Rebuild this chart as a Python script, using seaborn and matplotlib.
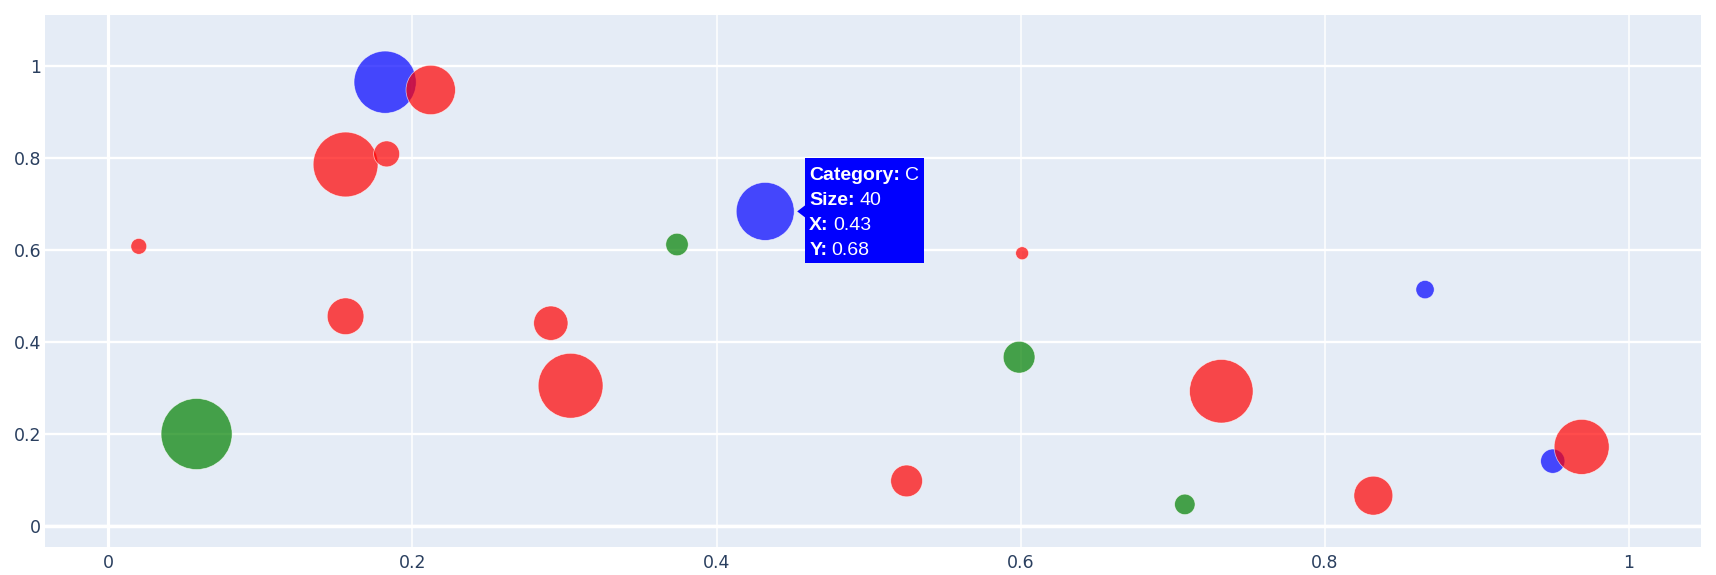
import matplotlib
matplotlib.use("Agg")
import matplotlib.pyplot as plt
import seaborn as sns
import pandas as pd
from matplotlib.patches import Rectangle, Polygon
from matplotlib.transforms import IdentityTransform
from matplotlib.ticker import FuncFormatter

# ---- data ----
cat_c_x = [0.182, 0.432, 0.866, 0.950]
cat_c_y = [0.964, 0.683, 0.513, 0.140]
cat_c_size = [46, 40, 4, 7]

cat_b_x = [0.058, 0.374, 0.599, 0.708]
cat_b_y = [0.199, 0.611, 0.366, 0.046]
cat_b_size = [60, 6, 12, 5]

cat_a_x = [0.020, 0.156, 0.183, 0.212, 0.156, 0.291, 0.304, 0.601, 0.525, 0.732, 0.832, 0.969]
cat_a_y = [0.607, 0.785, 0.808, 0.947, 0.455, 0.440, 0.304, 0.592, 0.097, 0.292, 0.065, 0.171]
cat_a_size = [3, 50, 8, 29, 16, 14, 50, 2, 12, 48, 18, 36]

categories = ["C", "B", "A"]
palette = {"A": "#ff0000", "B": "#008000", "C": "#0000ff"}
x_ticks = [0, 0.2, 0.4, 0.6, 0.8, 1]
y_ticks = [0, 0.2, 0.4, 0.6, 0.8, 1]

hover_cat = "C"
hover_idx = 1

df = pd.concat([
    pd.DataFrame({"x": cat_c_x, "y": cat_c_y, "size": cat_c_size, "category": "C"}),
    pd.DataFrame({"x": cat_b_x, "y": cat_b_y, "size": cat_b_size, "category": "B"}),
    pd.DataFrame({"x": cat_a_x, "y": cat_a_y, "size": cat_a_size, "category": "A"}),
], ignore_index=True)

sns.set_style("white")
plt.rcParams["font.family"] = ["DejaVu Sans"]

W, H = 1716, 575
fig = plt.figure(figsize=(W / 100, H / 100), dpi=100)
left, right, top, bottom = 45.3, 1701, 15, 546.7
ax = fig.add_axes([left / W, (H - bottom) / H, (right - left) / W, (bottom - top) / H])
ax.set_facecolor("#E5ECF6")
for s in ax.spines.values():
    s.set_visible(False)

ax.set_xlim(-0.0415, 1.0475)
ax.set_ylim(-0.046, 1.110)
ax.set_xticks(x_ticks)
ax.set_yticks(y_ticks)
fmt = FuncFormatter(lambda v, p: f"{v:g}")
ax.xaxis.set_major_formatter(fmt)
ax.yaxis.set_major_formatter(fmt)
ax.tick_params(axis="both", length=0, labelsize=12.5, labelcolor="#2a3f5f")
ax.tick_params(axis="x", pad=5)
ax.tick_params(axis="y", pad=3)
ax.set_axisbelow(True)
ax.xaxis.grid(True, color="white", linewidth=1.1, zorder=0)
ax.yaxis.grid(True, color="white", linewidth=1.7, zorder=0)
ax.axvline(0, color="white", linewidth=2.3, zorder=0.5)
ax.axhline(0, color="white", linewidth=2.5, zorder=0.5)

sns.scatterplot(data=df, x="x", y="y", hue="category", palette=palette,
                size="size", sizes=(0, 43.6 * 100), size_norm=(0, 100),
                alpha=0.7, edgecolor="white", linewidth=0.5, legend=False,
                ax=ax, zorder=3)
ax.set_xlabel("")
ax.set_ylabel("")
ax.set_xlim(-0.0415, 1.0475)
ax.set_ylim(-0.046, 1.110)

# ---- hover tooltip ----
hrow = df[df["category"] == hover_cat].iloc[hover_idx]
px, py = ax.transData.transform((hrow["x"], hrow["y"]))
ident = IdentityTransform()
box = Rectangle((px + 40, py - 51.5), 119, 105, transform=ident,
                facecolor="#0000ff", edgecolor="none", zorder=10, clip_on=False)
fig.add_artist(box)
tri = Polygon([(px + 32, py), (px + 40.5, py + 6.5), (px + 40.5, py - 6.5)],
              closed=True, transform=ident, facecolor="#0000ff",
              edgecolor="none", zorder=10, clip_on=False)
fig.add_artist(tri)

labels = ["Category:", "Size:", "X:", "Y:"]
values = [f"{hrow['category']}", f"{int(hrow['size'])}",
          f"{hrow['x']:.2f}", f"{hrow['y']:.2f}"]
renderer = fig.canvas.get_renderer()
tfam = ["Liberation Sans", "DejaVu Sans"]
for i, (lab, val) in enumerate(zip(labels, values)):
    ty = py + 31 - i * 25
    t = fig.text(px + 44, ty, lab, transform=ident, color="white",
                 fontsize=14, fontweight="bold", family=tfam,
                 va="baseline", ha="left", zorder=11)
    bb = t.get_window_extent(renderer=renderer)
    fig.text(bb.x1 + 4.5, ty, val, transform=ident, color="white",
             fontsize=14, family=tfam,
             va="baseline", ha="left", zorder=11)

fig.savefig("out.png", dpi=100, facecolor="white")
